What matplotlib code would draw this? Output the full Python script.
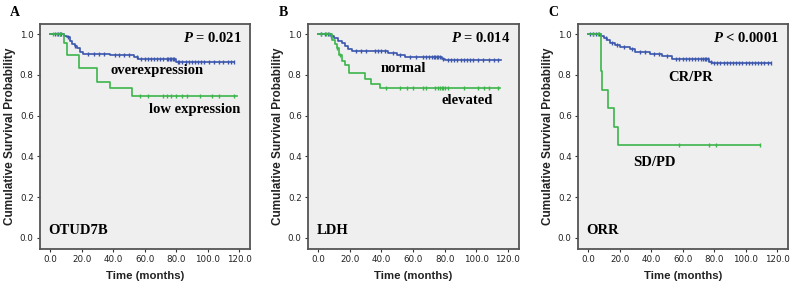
import matplotlib.pyplot as plt
import numpy as np

plt.rcParams['mathtext.fontset'] = 'custom'
plt.rcParams['mathtext.it'] = 'Liberation Serif:bold:italic'
plt.rcParams['mathtext.rm'] = 'Liberation Serif:bold'

blue = '#3a56ad'
green = '#3cb54a'

# panel A: OTUD7B
a_hi_t = [0, 9, 10.6, 12.5, 13.8, 15.5, 17, 19, 21, 38, 53, 56, 80]
a_hi_s = [1.0, 0.992, 0.984, 0.968, 0.954, 0.94, 0.93, 0.913, 0.905, 0.897, 0.886, 0.876, 0.864]
a_hi_end = 117
a_hi_cens = [3, 5, 6, 7, 11, 16, 24, 28, 31, 34, 41, 44, 47, 50, 55, 58, 60, 62, 64, 66, 68, 70,
             72, 74, 75, 76, 77, 78, 79, 81, 82, 84, 86, 88, 90, 92, 94, 96, 98, 101, 104, 107,
             110, 113, 115, 117]
a_lo_t = [0, 8.5, 10.6, 18, 29.6, 38, 52]
a_lo_s = [1.0, 0.955, 0.897, 0.832, 0.766, 0.734, 0.697]
a_lo_end = 118.5
a_lo_cens = [2, 4, 6, 57, 62, 72, 74, 77, 80, 84, 87, 95, 103, 107, 117]

# panel B: LDH
b_no_t = [0, 8, 10, 12.5, 15, 17, 19, 21.5, 44, 50, 55, 78, 80]
b_no_s = [1.0, 0.99, 0.98, 0.965, 0.955, 0.94, 0.925, 0.918, 0.91, 0.9, 0.889, 0.88, 0.873]
b_no_end = 115.7
b_no_cens = [2, 4, 6, 8, 24, 27, 30, 36, 38, 40, 42, 47, 52, 58, 62, 66, 68, 70, 72, 73, 74, 75,
             76, 77, 79, 82, 84, 86, 88, 90, 92, 94, 96, 98, 101, 104, 108, 111, 114]
b_el_t = [0, 9, 10.5, 12, 13, 15, 17, 19.5, 29.5, 33.6, 38.8]
b_el_s = [1.0, 0.97, 0.95, 0.93, 0.9, 0.87, 0.848, 0.81, 0.778, 0.758, 0.734]
b_el_end = 114.7
b_el_cens = [2, 5, 7, 12, 14, 43, 52, 56, 60, 66, 68, 74, 76, 77, 78, 79, 80, 82, 92, 101, 105, 108, 114]

# panel C: ORR
c_cr_t = [0, 8, 10, 12, 14, 17, 20.4, 26.6, 30, 39, 47, 53.4, 77, 79]
c_cr_s = [1.0, 0.99, 0.98, 0.97, 0.955, 0.945, 0.935, 0.925, 0.912, 0.905, 0.895, 0.877, 0.866, 0.859]
c_cr_end = 116
c_cr_cens = [1, 3, 5, 7, 11, 15, 18, 23, 28, 33, 36, 42, 45, 50, 56, 58, 60, 62, 64, 66, 68, 70,
             72, 73, 74, 75, 76, 78, 80, 82, 84, 86, 88, 90, 92, 94, 96, 98, 100, 102, 104, 106,
             108, 110, 112, 114, 116]
c_sd_t = [0, 8.2, 8.6, 12.6, 16.5, 18.8]
c_sd_s = [1.0, 0.818, 0.727, 0.636, 0.545, 0.4545]
c_sd_end = 109
c_sd_cens = [3, 6, 57.5, 77, 81, 109]

panels = [
    ('A', 'OTUD7B', r'$P$ = 0.021',
     [(a_hi_t, a_hi_s, a_hi_end, a_hi_cens, blue), (a_lo_t, a_lo_s, a_lo_end, a_lo_cens, green)],
     [('overexpression', 68, 0.82), ('low expression', 92, 0.632)]),
    ('B', 'LDH', r'$P$ = 0.014',
     [(b_no_t, b_no_s, b_no_end, b_no_cens, blue), (b_el_t, b_el_s, b_el_end, b_el_cens, green)],
     [('normal', 54, 0.833), ('elevated', 94, 0.676)]),
    ('C', 'ORR', r'$P$ < 0.0001',
     [(c_cr_t, c_cr_s, c_cr_end, c_cr_cens, blue), (c_sd_t, c_sd_s, c_sd_end, c_sd_cens, green)],
     [('CR/PR', 65, 0.789), ('SD/PD', 42, 0.372)]),
]

lefts = [40 / 792, 308 / 792, 578 / 792]
widths = [210 / 792, 211 / 792, 210 / 792]

fig = plt.figure(figsize=(7.92, 2.89), dpi=100)

for i, (letter, name, ptxt, curves, labels) in enumerate(panels):
    ax = fig.add_axes([lefts[i], 40 / 289, widths[i], 225 / 289])
    ax.set_facecolor('#efefef')
    for t, s, end, cens, col in curves:
        tt = list(t) + [end]
        ss = list(s) + [s[-1]]
        ax.step(tt, ss, where='post', color=col, lw=1.2)
        cy = [s[np.searchsorted(t, c, side='right') - 1] for c in cens]
        ax.plot(cens, cy, ls='none', marker='|', ms=3.5, mew=1.0, color=col)
    ax.set_xlim(-6.5, 127)
    ax.set_ylim(-0.054, 1.05)
    ax.set_xticks(np.arange(0, 121, 20))
    ax.set_xticklabels(['%.1f' % v for v in np.arange(0, 121, 20)])
    ax.set_yticks(np.arange(0, 1.01, 0.2))
    ax.set_yticklabels(['%.1f' % v for v in np.arange(0, 1.01, 0.2)])
    ax.tick_params(labelsize=6.3, length=2.5, width=0.8, pad=2, colors='#333333',
                   labelcolor='#222222')
    for sp in ax.spines.values():
        sp.set_color('#555555')
        sp.set_linewidth(1.3)
    ax.set_xlabel('Time (months)', fontsize=8.2, family='Liberation Sans', weight='bold',
                  color='#222222', labelpad=5)
    ax.set_ylabel('Cumulative Survival Probability', fontsize=8.5, family='Liberation Sans',
                  weight='bold', color='#222222', labelpad=3)
    ax.text(0.96, 0.94, ptxt, transform=ax.transAxes, ha='right', va='center',
            fontsize=10.5, family='Liberation Serif', weight='bold')
    ax.text(0.04, 0.08, name, transform=ax.transAxes, ha='left', va='center',
            fontsize=10.5, family='Liberation Serif', weight='bold')
    for txt, x, y in labels:
        ax.text(x, y, txt, ha='center', va='center', fontsize=10.5,
                family='Liberation Serif', weight='bold')
    fig.text(lefts[i] - 25 / 792, 1 - 13 / 289, letter, ha='center', va='center',
             fontsize=10, family='Liberation Serif', weight='bold')

fig.savefig('out.png', dpi=100)
